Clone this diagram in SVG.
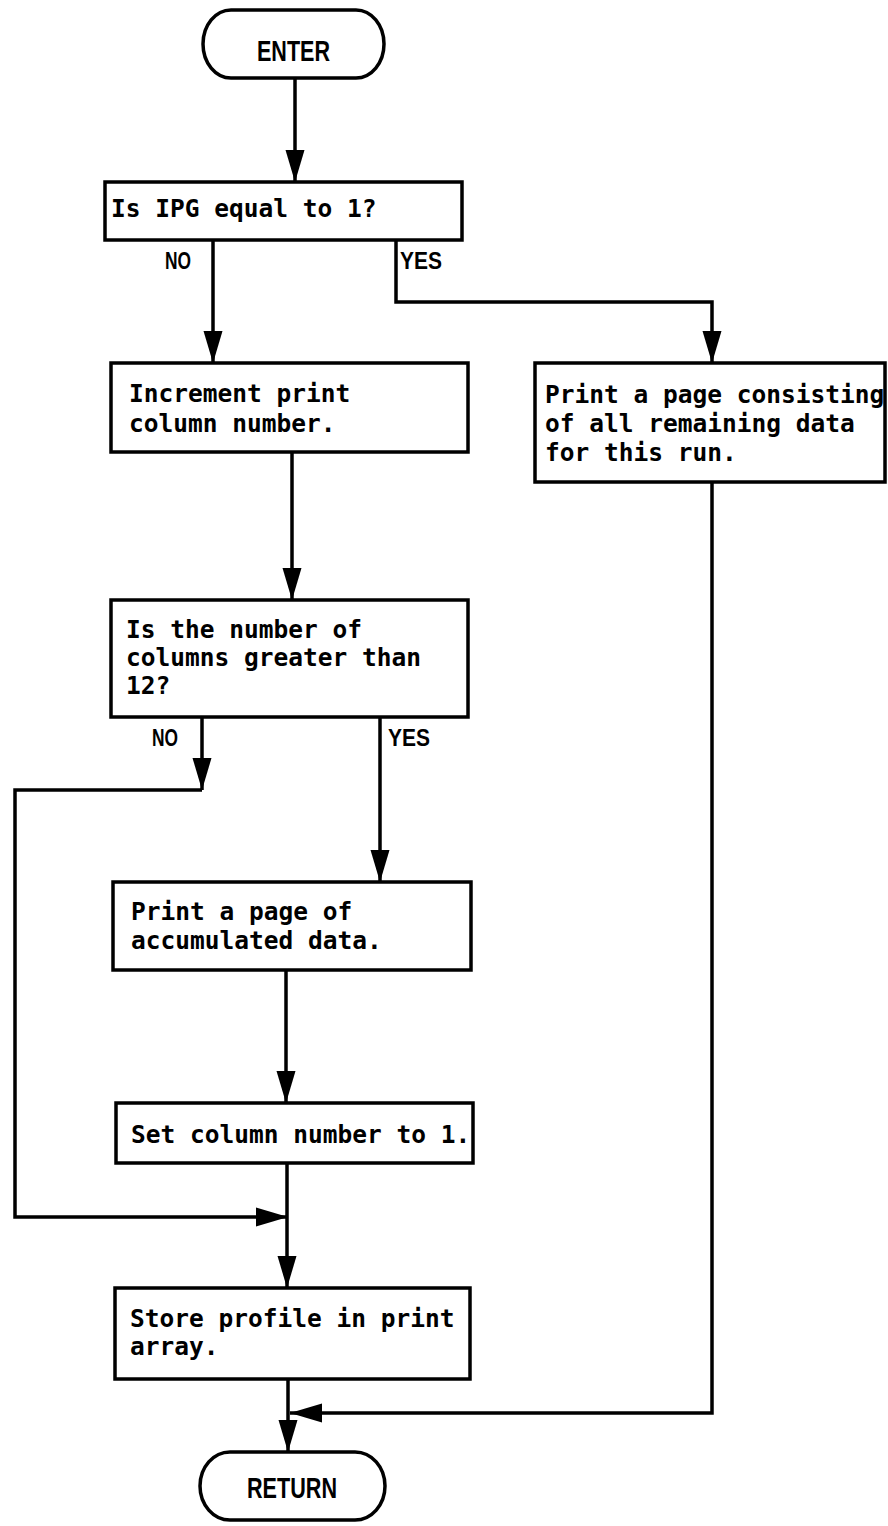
<svg xmlns="http://www.w3.org/2000/svg" width="888" height="1526" viewBox="0 0 888 1526">
  <style>
    .box { fill: #fff; stroke: #000; stroke-width: 3.5; }
    .t { font-family: "DejaVu Sans Mono", "Liberation Mono", monospace; font-weight: bold; font-size: 24.5px; fill: #000; }
    .lbl { font-family: "Liberation Sans", Arial, sans-serif; font-weight: bold; font-size: 24px; fill: #000; }
    .term { font-family: "Liberation Sans", Arial, sans-serif; font-weight: bold; font-size: 30px; fill: #000; }
    .wire { fill: none; stroke: #000; stroke-width: 3.5; }
    .arrow { marker-end: url(#ah); }
  </style>
  <defs>
    <marker id="ah" viewBox="-33 -11 34 22" refX="0" refY="0" markerWidth="34" markerHeight="22" markerUnits="userSpaceOnUse" orient="auto">
      <path d="M0,0 L-32,-9.5 L-32,9.5 Z" fill="#000"/>
    </marker>
  </defs>
  <rect width="888" height="1526" fill="#fff"/>

  <!-- connectors -->
  <g id="connectors">
    <path class="wire arrow" d="M295,78 V182"/>
    <path class="wire arrow" d="M213,240 V363"/>
    <path class="wire arrow" d="M396,240 V302 H712 V363"/>
    <path class="wire arrow" d="M292,452 V600"/>
    <path class="wire arrow" d="M202,717 V790"/>
    <path class="wire arrow" d="M202,790 H15 V1217 H288"/>
    <path class="wire arrow" d="M380,717 V882"/>
    <path class="wire arrow" d="M286,970 V1103"/>
    <path class="wire arrow" d="M287,1163 V1288"/>
    <path class="wire arrow" d="M288,1379 V1452"/>
    <path class="wire arrow" d="M712,482 V1413 H290"/>
  </g>

  <!-- labels on branches -->
  <g id="branch-labels">
    <text class="lbl" x="165" y="269" textLength="26" lengthAdjust="spacingAndGlyphs">NO</text>
    <text class="lbl" x="400" y="269" textLength="42" lengthAdjust="spacingAndGlyphs">YES</text>
    <text class="lbl" x="152" y="746" textLength="26" lengthAdjust="spacingAndGlyphs">NO</text>
    <text class="lbl" x="388" y="746" textLength="42" lengthAdjust="spacingAndGlyphs">YES</text>
  </g>

  <g id="enter">
    <rect class="box" x="203" y="10" width="181" height="68" rx="28" ry="34"/>
    <text class="term" x="257" y="61" textLength="73" lengthAdjust="spacingAndGlyphs">ENTER</text>
  </g>

  <g id="ipg-check">
    <rect class="box" x="105" y="182" width="357" height="58"/>
    <text class="t" x="111" y="217">Is IPG equal to 1?</text>
  </g>

  <g id="increment-column">
    <rect class="box" x="111" y="363" width="357" height="89"/>
    <text class="t" x="129" y="402">Increment print</text>
    <text class="t" x="129" y="432">column number.</text>
  </g>

  <g id="print-remaining">
    <rect class="box" x="535" y="363" width="350" height="119"/>
    <text class="t" x="545" y="403">Print a page consisting</text>
    <text class="t" x="545" y="432">of all remaining data</text>
    <text class="t" x="545" y="461">for this run.</text>
  </g>

  <g id="column-check">
    <rect class="box" x="111" y="600" width="357" height="117"/>
    <text class="t" x="126" y="638">Is the number of</text>
    <text class="t" x="126" y="666">columns greater than</text>
    <text class="t" x="126" y="694">12?</text>
  </g>

  <g id="print-page">
    <rect class="box" x="113" y="882" width="358" height="88"/>
    <text class="t" x="131" y="920">Print a page of</text>
    <text class="t" x="131" y="949">accumulated data.</text>
  </g>

  <g id="reset-column">
    <rect class="box" x="116" y="1103" width="357" height="60"/>
    <text class="t" x="131" y="1143">Set column number to 1.</text>
  </g>

  <g id="store-profile">
    <rect class="box" x="115" y="1288" width="355" height="91"/>
    <text class="t" x="130" y="1327">Store profile in print</text>
    <text class="t" x="130" y="1355">array.</text>
  </g>

  <g id="return">
    <rect class="box" x="200" y="1452" width="185" height="68" rx="30" ry="34"/>
    <text class="term" x="247" y="1498" textLength="90" lengthAdjust="spacingAndGlyphs">RETURN</text>
  </g>
</svg>
